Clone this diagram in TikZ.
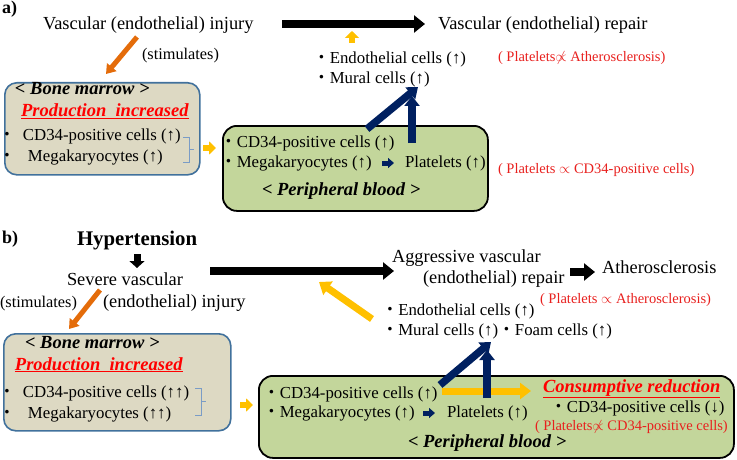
\documentclass[tikz,border=0pt]{standalone}
\usepackage{fontspec}
\setmainfont{Liberation Serif}
\newfontfamily\cjkfont{Noto Sans CJK JP}
\usetikzlibrary{arrows.meta}
\definecolor{beige}{HTML}{DDD9C3}
\definecolor{bmborder}{HTML}{41719C}
\definecolor{pbgreen}{HTML}{C3D69B}
\definecolor{navy}{HTML}{002060}
\definecolor{orng}{HTML}{E46C0A}
\definecolor{gold}{HTML}{FFC000}
\definecolor{hdred}{HTML}{FF0000}
\definecolor{annred}{HTML}{E8201E}
\definecolor{brk}{HTML}{7A9CC6}
\newcommand{\mybul}{{\cjkfont ・}}
\tikzset{
  tx/.style={anchor=base west, inner sep=0pt, outer sep=0pt},
  main/.style={tx, font=\fontsize{18.4}{22}\selectfont},
  body/.style={tx, font=\fontsize{16.8}{20}\selectfont},
  ann/.style={tx, text=annred, font=\fontsize{14.5}{17}\selectfont},
  stim/.style={tx, font=\fontsize{16.3}{19}\selectfont},
  hd/.style={tx, font=\fontsize{18.5}{22}\selectfont\bfseries\itshape},
  redhd/.style={hd, text=hdred},
  lbl/.style={tx, font=\fontsize{18}{22}\selectfont\bfseries},
  bmbox/.style={draw=bmborder, fill=beige, line width=1.6pt, rounded corners=12pt, anchor=north west, inner sep=0pt},
  pbbox/.style={draw=black, fill=pbgreen, line width=1.8pt, rounded corners=14pt, anchor=north west, inner sep=0pt},
  blk/.style={draw=black, line width=8pt, -{Triangle[width=17pt,length=11pt]}},
  blkdown/.style={draw=black, line width=7pt, -{Triangle[width=15pt,length=7pt]}},
  org/.style={draw=orng, line width=5pt, -{Triangle[width=12pt,length=9pt]}},
  yel/.style={draw=gold, line width=6pt, -{Triangle[width=13pt,length=7pt]}},
  yelup/.style={draw=gold, line width=6pt, -{Triangle[width=14pt,length=7pt]}},
  yelbig/.style={draw=gold, line width=7pt, -{Triangle[width=16pt,length=11pt]}},
  nav/.style={draw=navy, line width=7.5pt, -{Triangle[width=15pt,length=10pt]}},
  navsmall/.style={draw=navy, line width=5pt, -{Triangle[width=10pt,length=6pt]}},
  bracket/.style={draw=brk, line width=1pt}
}
\begin{document}
\begin{tikzpicture}[x=1pt,y=-1pt]
\useasboundingbox (0,0) rectangle (737,460);
% ---------------- part a ----------------
\node[bmbox, minimum width=195pt, minimum height=92pt] (bmA) at (4,82) {};
\node[pbbox, minimum width=265pt, minimum height=85pt] (pbA) at (222,125) {};
\node[lbl] (labA) at (2,14) {a)};
\node[main] (injA) at (43,30) {Vascular (endothelial) injury};
\node[main] (repA) at (438,30) {Vascular (endothelial) repair};
\node[stim] (stimA) at (142,60) {(stimulates)};
\node[body] (endA) at (313,64) {\mybul Endothelial cells (↑)};
\node[body] (murA) at (313,84) {\mybul Mural cells (↑)};
\node[ann] (annA1) at (498,62) {( Platelets$\not\propto$ Atherosclerosis)};
\node[ann] (annA2) at (498,173) {( Platelets $\propto$ CD34-positive cells)};
\node[hd] (bmtA) at (15,95) {< Bone marrow >};
\node[redhd] (prA) at (21,117) {\underline{Production\ \ increased}};
\node[body] (bmcdA) at (-1.4,140) {\mybul\hspace{7.6pt}CD34-positive cells (↑)};
\node[body] (bmmkA) at (-1.4,161) {\mybul\hspace{12.6pt}Megakaryocytes (↑)};
\node[body] (pbcdA) at (220,147) {\mybul CD34-positive cells (↑)};
\node[body] (pbmkA) at (220,167) {\mybul Megakaryocytes (↑)};
\node[body] (pltA) at (405,167) {Platelets (↑)};
\node[hd] (pbtA) at (262,195) {< Peripheral blood >};
\draw[bracket] (183,137) -- (189,137) -- (189,162) -- (183,162) (189,149.5) -- (194,149.5);
\coordinate (a1s) at (282,24); \coordinate (a1e) at (425,24);
\draw[blk] (a1s) -- (a1e);
\coordinate (o1s) at (137,37); \coordinate (o1e) at (106,74);
\draw[org] (o1s) -- (o1e);
\coordinate (y1s) at (352,43); \coordinate (y1e) at (352,31);
\draw[yelup] (y1s) -- (y1e);
\coordinate (y2s) at (203,148); \coordinate (y2e) at (216,148);
\draw[yel] (y2s) -- (y2e);
\coordinate (n1s) at (367,129); \coordinate (n1e) at (418,87);
\draw[nav] (n1s) -- (n1e);
\coordinate (n2s) at (412,143); \coordinate (n2e) at (412,96);
\draw[nav] (n2s) -- (n2e);
\coordinate (n3s) at (382,163); \coordinate (n3e) at (394,163);
\draw[navsmall] (n3s) -- (n3e);
% ---------------- part b ----------------
\node[bmbox, minimum width=227pt, minimum height=97pt] (bmB) at (3,333) {};
\node[pbbox, minimum width=475pt, minimum height=82pt] (pbB) at (258,375) {};
\node[lbl] (labB) at (2,243) {b)};
\node[tx, font=\fontsize{20.8}{24}\selectfont\bfseries] (hyp) at (77,245) {Hypertension};
\node[main] (sevB) at (67,285) {Severe vascular};
\node[main] (injB) at (103,307) {(endothelial) injury};
\node[stim] (stimB) at (0,307) {(stimulates)};
\node[main] (aggB) at (392,262) {Aggressive vascular};
\node[main] (repB) at (423,283) {(endothelial) repair};
\node[main] (athB) at (602,273) {Atherosclerosis};
\node[ann] (annB1) at (540,303) {( Platelets $\propto$ Atherosclerosis)};
\node[body] (endB) at (381.5,315) {\mybul Endothelial cells (↑)};
\node[body] (murB) at (381.5,335) {\mybul Mural cells (↑)\mybul Foam cells (↑)};
\node[hd] (bmtB) at (25,348) {< Bone marrow >};
\node[redhd] (prB) at (15,370) {\underline{Production\ \ increased}};
\node[body] (bmcdB) at (-1.4,397) {\mybul\hspace{7.6pt}CD34-positive cells (↑↑)};
\node[body] (bmmkB) at (-1.4,418) {\mybul\hspace{12.6pt}Megakaryocytes (↑↑)};
\draw[bracket] (195,388) -- (201,388) -- (201,415) -- (195,415) (201,401.5) -- (206,401.5);
\node[body] (pbcdB) at (263,398) {\mybul CD34-positive cells (↑)};
\node[body] (pbmkB) at (263,417) {\mybul Megakaryocytes (↑)};
\node[body] (pltB) at (447,417) {Platelets (↑)};
\node[hd] (pbtB) at (408,447) {< Peripheral blood >};
\node[redhd] (conB) at (543,392) {\underline{Consumptive reduction}};
\node[body] (cdrB) at (550,412) {\mybul CD34-positive cells (↓)};
\node[ann] (annB2) at (535,430) {( Platelets$\not\propto$ CD34-positive cells)};
\coordinate (hs) at (137,254); \coordinate (he) at (137,268);
\draw[blkdown] (hs) -- (he);
\coordinate (b1s) at (210,271); \coordinate (b1e) at (394,271);
\draw[blk] (b1s) -- (b1e);
\coordinate (b2s) at (570,272); \coordinate (b2e) at (595,272);
\draw[blk] (b2s) -- (b2e);
\coordinate (o2s) at (100,290); \coordinate (o2e) at (69,329);
\draw[org] (o2s) -- (o2e);
\coordinate (y3s) at (372,319); \coordinate (y3e) at (319,282);
\draw[yelbig] (y3s) -- (y3e);
\coordinate (y4s) at (240,405); \coordinate (y4e) at (253,405);
\draw[yel] (y4s) -- (y4e);
\coordinate (y5s) at (442,391); \coordinate (y5e) at (531,391);
\draw[yelbig] (y5s) -- (y5e);
\coordinate (n4s) at (440,385); \coordinate (n4e) at (491,342);
\draw[nav] (n4s) -- (n4e);
\coordinate (n5s) at (487,398); \coordinate (n5e) at (487,350);
\draw[nav] (n5s) -- (n5e);
\coordinate (n6s) at (423,413); \coordinate (n6e) at (435,413);
\draw[navsmall] (n6s) -- (n6e);
\end{tikzpicture}
\end{document}
